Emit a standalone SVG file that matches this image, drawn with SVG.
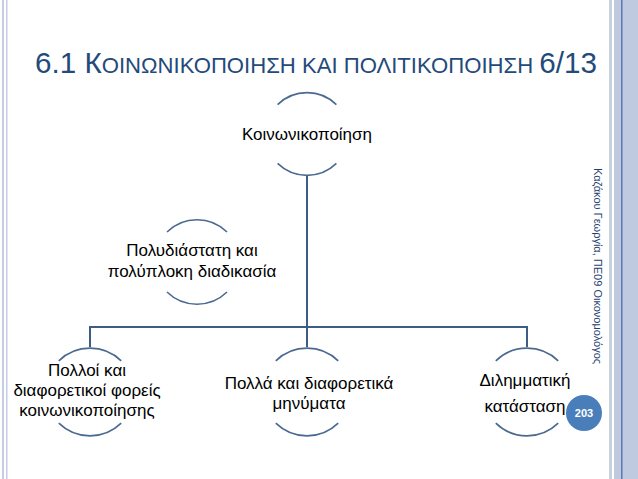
<svg xmlns="http://www.w3.org/2000/svg" width="638" height="479" viewBox="0 0 638 479">
<style>
.arc{fill:none;stroke:#4a6a91;stroke-width:1.6}
.con{fill:none;stroke:#3e5d85;stroke-width:2}
.t{font-family:"Liberation Sans",Arial,sans-serif;font-size:17px;fill:#000;text-anchor:middle}
.ttl{font-family:"Liberation Sans",Arial,sans-serif;fill:#244a7a}
</style>
<defs>
<g id="arcs"><path class="arc" d="M-30,-30 A43,43 0 0 1 30,-30"/><path class="arc" d="M-30,30 A43,43 0 0 0 30,30"/></g>
</defs>
<rect width="638" height="479" fill="#fff"/>
<rect x="2" y="0" width="2" height="479" fill="#c5cee0"/>
<rect x="6" y="0" width="1.5" height="479" fill="#c5cee0"/>
<rect x="609" y="0" width="3" height="479" fill="#c8d0e0"/>
<rect x="614" y="0" width="24" height="479" fill="#bfc9df"/>
<rect x="621" y="0" width="1.5" height="479" fill="#5a7bb0"/>
<text class="ttl" x="35" y="73" font-size="29.5" textLength="562" lengthAdjust="spacingAndGlyphs">6.1 К<tspan font-size="22">ΟΙΝΩΝΙΚΟΠΟΙΗΣΗ ΚΑΙ ΠΟΛΙΤΙΚΟΠΟΙΗΣΗ </tspan>6/13</text>
<text x="594" y="168" transform="rotate(90 594 168)" font-family="Liberation Sans,Arial,sans-serif" font-size="11" fill="#1f4170">Καζάκου Γεωργία, ΠΕ09 Οικονομολόγος</text>
<g id="connectors">
<path class="con" d="M307,176 V327 M90,347 V327 H527 V347 M307,327 V347"/>
</g>
<g id="n1"><use href="#arcs" transform="translate(307,134) scale(0.98)"/><text class="t" x="307" y="140">Κοινωνικοποίηση</text></g>
<g id="n2"><use href="#arcs" transform="translate(197,262)"/><text class="t" x="192" y="256">Πολυδιάστατη και</text><text class="t" x="192" y="277">πολύπλοκη διαδικασία</text></g>
<g id="n3"><use href="#arcs" transform="translate(90,392) scale(1.04)"/><text class="t" x="87" y="376">Πολλοί και</text><text class="t" x="87" y="396">διαφορετικοί φορείς</text><text class="t" x="87" y="416">κοινωνικοποίησης</text></g>
<g id="n4"><use href="#arcs" transform="translate(307,392) scale(1.04)"/><text class="t" x="309" y="389">Πολλά και διαφορετικά</text><text class="t" x="309" y="409">μηνύματα</text></g>
<g id="n5"><use href="#arcs" transform="translate(527,392) scale(1.04)"/><text class="t" x="525" y="386">Διλημματική</text><text class="t" x="525" y="412">κατάσταση</text></g>
<g id="page"><circle cx="584" cy="413" r="18" fill="#4a7ebb"/><text x="584" y="417" text-anchor="middle" font-family="Liberation Sans,Arial,sans-serif" font-weight="bold" font-size="11" fill="#fff">203</text></g>
</svg>
